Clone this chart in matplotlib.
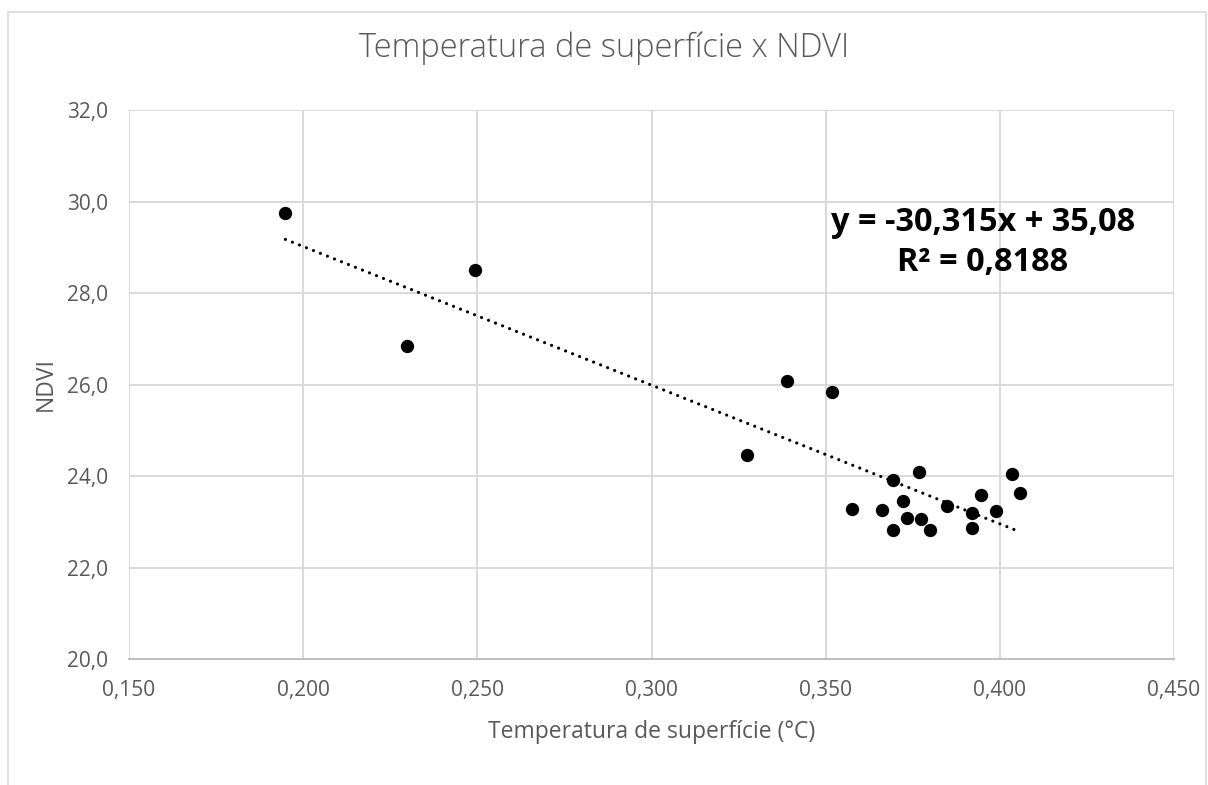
import matplotlib
matplotlib.use("Agg")
import matplotlib.pyplot as plt
from matplotlib.patches import Rectangle
from matplotlib.ticker import FuncFormatter, MultipleLocator
import numpy as np

title = "Temperatura de superfície x NDVI"
x_label = "Temperatura de superfície (°C)"
y_label = "NDVI"

temp = [0.1949, 0.2298, 0.2492, 0.3273, 0.3388, 0.3519, 0.3576, 0.3663, 0.3693,
        0.3694, 0.3721, 0.3734, 0.3769, 0.3775, 0.3799, 0.3847, 0.3921, 0.3921,
        0.3947, 0.3988, 0.4035, 0.4058]
ndvi = [29.75, 26.85, 28.50, 24.45, 26.07, 25.84, 23.28, 23.25, 23.91,
        22.81, 23.46, 23.08, 24.08, 23.05, 22.81, 23.35, 23.19, 22.87,
        23.59, 23.23, 24.04, 23.63]

slope = -30.315
intercept = 35.08
r2_text = "0,8188"

plt.rcParams['font.family'] = ['Open Sans', 'DejaVu Sans']

fig = plt.figure(figsize=(12.08, 7.85), dpi=100)
fig.patch.set_facecolor('white')
# outer chart border
fig.patches.append(Rectangle((8/1208, -0.05), (1206-8)/1208, 1 - 12/785 + 0.05,
                             transform=fig.transFigure, fill=False,
                             edgecolor='#d9d9d9', linewidth=1.2))

ax = fig.add_axes([129/1208, 1-659/785, (1174-129)/1208, (659-110)/785])
ax.set_xlim(0.15, 0.45)
ax.set_ylim(20, 32)
ax.xaxis.set_major_locator(MultipleLocator(0.05))
ax.yaxis.set_major_locator(MultipleLocator(2))
ax.xaxis.set_major_formatter(FuncFormatter(lambda v, p: f"{v:.3f}".replace('.', ',')))
ax.yaxis.set_major_formatter(FuncFormatter(lambda v, p: f"{v:.1f}".replace('.', ',')))
ax.grid(True, color='#d9d9d9', linewidth=1.4)
ax.set_axisbelow(True)
for s in ['top', 'right', 'left']:
    ax.spines[s].set_visible(False)
ax.spines['bottom'].set_color('#bfbfbf')
ax.spines['bottom'].set_linewidth(1.4)
ax.tick_params(length=0, labelsize=15, colors='#595959')
ax.tick_params(axis='x', pad=15)
ax.tick_params(axis='y', pad=15)

ax.scatter(temp, ndvi, s=92, color='black', zorder=3, linewidths=0)

xt = np.array([min(temp), max(temp)])
ax.plot(xt, slope * xt + intercept, color='black', linewidth=2.3,
        linestyle=(0, (0.01, 2.35)), dash_capstyle='round', zorder=2)

eq = f"y = {slope:.3f}x + {intercept:.2f}".replace('.', ',')
ax.text(0.3951, 29.1, eq + "\nR² = " + r2_text, ha='center', va='center',
        fontsize=23.4, fontweight='bold', color='black', linespacing=1.3,
        family=['Open Sans', 'DejaVu Sans'])

ax.set_xlabel(x_label, fontsize=16.5, color='#595959', labelpad=14)
ax.set_ylabel(y_label, fontsize=16.5, color='#595959', labelpad=7)
fig.text(0.5, 1 - 48/785, title, ha='center', va='center', fontsize=23.5,
         color='#595959', fontweight='light')

fig.savefig("out.png", dpi=100)
